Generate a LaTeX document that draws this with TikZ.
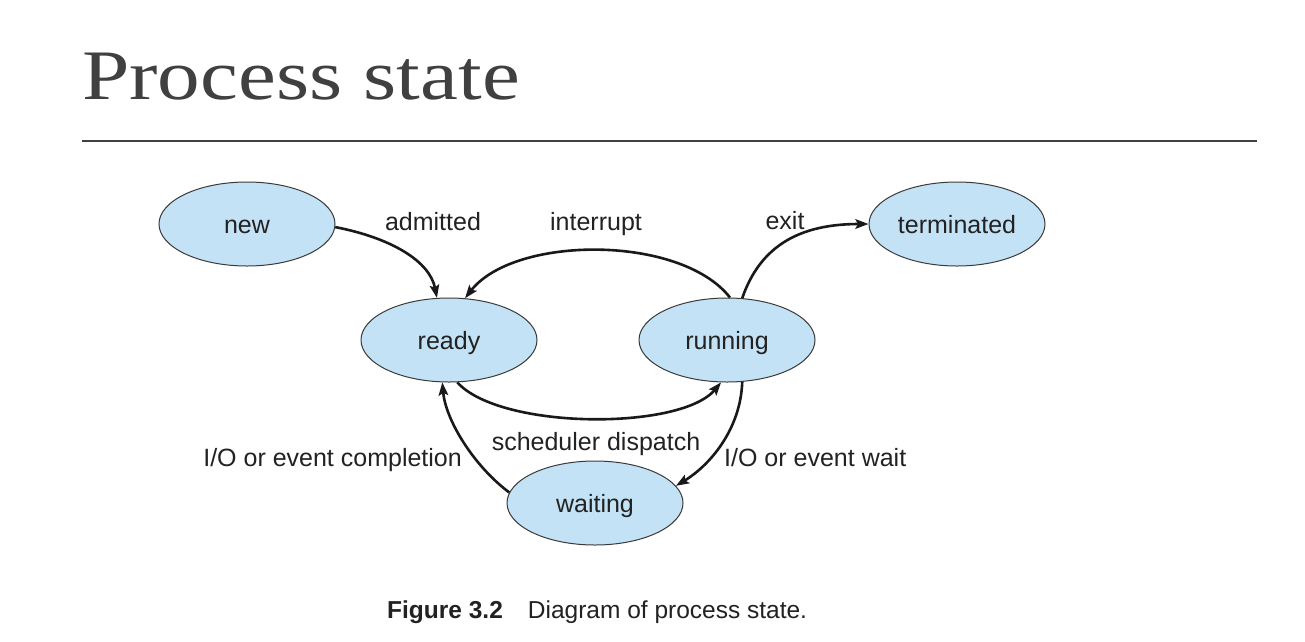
\documentclass[tikz,border=0pt]{standalone}
\usepackage{fontspec}
\setmainfont{Liberation Sans}
\newfontfamily\titlefont{Liberation Serif}[FakeStretch=1.2]
\usetikzlibrary{arrows.meta,shapes.geometric}
\definecolor{statefill}{HTML}{C4E2F5}
\definecolor{stateline}{HTML}{3A3A3A}
\definecolor{txt}{HTML}{222222}
\definecolor{titlegray}{HTML}{404040}
\begin{document}
\begin{tikzpicture}[x=1pt,y=1pt,
  state/.style={ellipse,draw=stateline,fill=statefill,line width=1pt,
    minimum width=176pt,minimum height=84pt,inner sep=0pt,
    font=\fontsize{25}{30}\selectfont,text=txt},
  stext/.style={font=\fontsize{25}{30}\selectfont,text=txt,inner sep=0pt},
  lbl/.style={font=\fontsize{25}{30}\selectfont,text=txt,inner sep=0pt},
  trans/.style={line width=2.6pt,draw=black!90,-{Stealth[length=13pt,width=9.5pt,inset=2.5pt]}}]
\useasboundingbox[fill=white] (0,0) rectangle (1305,-641);
% title and rule
\node[anchor=base west,inner sep=0pt,text=titlegray,font=\titlefont\fontsize{71}{80}\selectfont] (title) at (82,-99) {Process state};
\coordinate (ruleL) at (82,-141);
\coordinate (ruleR) at (1257,-141);
\draw[line width=1.5pt,draw=titlegray] (ruleL) -- (ruleR);
% states
\node[state] (new) at (247,-224) {};
\node[state] (ready) at (449,-340) {};
\node[state] (running) at (727,-340) {};
\node[state] (terminated) at (957,-224) {};
\node[state] (waiting) at (595,-503) {};
\node[stext,anchor=base] (newt) at (new.center) [yshift=-9pt] {new};
\node[stext,anchor=base] (readyt) at (ready.center) [yshift=-9pt] {ready};
\node[stext,anchor=base] (runningt) at (running.center) [yshift=-9pt] {running};
\node[stext,anchor=base] (terminatedt) at (terminated.center) [yshift=-9pt] {terminated};
\node[stext,anchor=base] (waitingt) at (waiting.center) [yshift=-9pt] {waiting};
% transitions
\draw[trans] (new.-2) to[out=-11,in=101,out distance=56pt,in distance=38pt] (ready.106);
\draw[trans] (running.86) to[out=128,in=52,out distance=80pt,in distance=80pt] (ready.69);
\draw[trans] (running.70) to[out=71,in=180,out distance=56pt,in distance=68pt] (terminated.180);
\draw[trans] (ready.-79) to[out=-48,in=-130,out distance=64pt,in distance=63pt] (running.-98);
\draw[trans] (running.-70) to[out=-92,in=31,out distance=48pt,in distance=39pt] (waiting.12);
\draw[trans] (waiting.173) to[out=143,in=-85,out distance=46pt,in distance=37pt] (ready.-99);
% labels
\node[lbl,anchor=base] (l1) at (433,-230) {admitted};
\node[lbl,anchor=base] (l2) at (596,-230) {interrupt};
\node[lbl,anchor=base] (l3) at (785,-229) {exit};
\node[lbl,anchor=base] (l4) at (596,-450) {scheduler dispatch};
\node[lbl,anchor=base east] (l5) at (462,-466) {I/O or event completion};
\node[lbl,anchor=base west] (l6) at (724,-466) {I/O or event wait};
% caption
\node[lbl,anchor=base west,font=\fontsize{24.5}{30}\selectfont] (cap) at (387,-618) {\textbf{Figure 3.2}\hspace{25pt}Diagram of process state.};
\end{tikzpicture}
\end{document}
